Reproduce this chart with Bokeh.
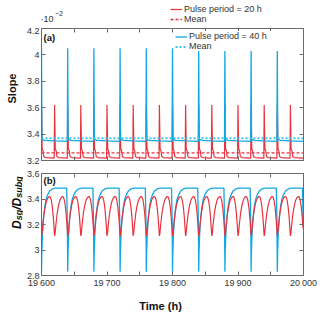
import math
from bokeh.plotting import figure
from bokeh.layouts import column, row
from bokeh.models import Range1d, LinearAxis, FixedTicker, Label, Legend, LegendItem
from bokeh.core.properties import value
from bokeh.embed import file_html
from bokeh.resources import INLINE

# ---------------- data ----------------
time_start = 19600
time_end = 20000
red_pulse_times = [19600, 19620, 19640, 19660, 19680, 19700, 19720, 19740, 19760, 19780,
                   19800, 19820, 19840, 19860, 19880, 19900, 19920, 19940, 19960, 19980]
blue_pulse_times = [19600, 19640, 19680, 19720, 19760, 19800, 19840, 19880, 19920, 19960]

# panel (a): one cycle after each pulse (hours after pulse, slope x 1e-2)
red_slope_cycle_dt = [0.0, 1.0, 2.5, 3.5, 6.0, 19.4]
red_slope_cycle = [3.62, 3.29, 3.27, 3.23, 3.222, 3.218]
blue_slope_cycle_dt = [0.0, 0.7, 5.0, 20.0, 39.4]
blue_slope_cycle = [4.05, 3.36, 3.352, 3.348, 3.345]
red_slope_mean = 3.258
blue_slope_mean = 3.368

# panel (b): one cycle after each pulse (hours after pulse, Dsg/Dsubg)
red_ratio_cycle_dt = [0.0, 0.8, 2.0, 4.0, 6.0, 8.0, 10.0, 12.0, 13.5, 15.0, 16.5, 18.0, 19.2]
red_ratio_cycle = [3.11, 3.13, 3.20, 3.29, 3.35, 3.39, 3.41, 3.42, 3.415, 3.39, 3.34, 3.26, 3.17]
blue_ratio_cycle_dt = [0.0, 0.5, 1.5, 3.0, 5.0, 7.0, 10.0, 13.0, 17.0, 21.0, 38.5, 39.5]
blue_ratio_cycle = [2.83, 2.98, 3.13, 3.25, 3.34, 3.40, 3.44, 3.465, 3.48, 3.485, 3.485, 3.20]

x_ticks = [19600, 19650, 19700, 19750, 19800, 19850, 19900, 19950, 20000]
x_tick_labels = ["19\u2009600", "", "19\u2009700", "", "19\u2009800", "", "19\u2009900", "", "20\u2009000"]
slope_ticks = [3.2, 3.4, 3.6, 3.8, 4.0, 4.2]
slope_tick_labels = ["3.2", "3.4", "3.6", "3.8", "4", "4.2"]
ratio_ticks = [2.8, 3.0, 3.2, 3.4, 3.6]
ratio_tick_labels = ["2.8", "3", "3.2", "3.4", "3.6"]

legend_labels = ["Pulse period = 20 h", "Mean", "Pulse period = 40 h", "Mean"]

RED = "#E8333F"
BLUE = "#10A8E2"
BLUE_MEAN = "#40C0EE"
AX = "#6b6b6b"
TXT = "#333333"
DARK = "#111111"
FONT = "Liberation Sans"
TICK_FS = "9px"
LEG_FS = "9px"


def build_series(pulses, cyc_dt, cyc_val):
    xs, ys = [], []
    for t0 in pulses:
        for dt, v in zip(cyc_dt, cyc_val):
            t = t0 + dt
            if t <= time_end:
                xs.append(t)
                ys.append(v)
    return xs, ys


def style_axis(ax, ticks, labels, show_labels):
    ax.ticker = FixedTicker(ticks=ticks)
    ax.major_tick_in = 4
    ax.major_tick_out = 0
    ax.minor_tick_in = 0
    ax.minor_tick_out = 0
    ax.axis_line_color = AX
    ax.major_tick_line_color = AX
    ax.major_label_text_font = FONT
    if show_labels:
        ax.major_label_overrides = {t: l for t, l in zip(ticks, labels)}
        ax.major_label_text_color = TXT
        ax.major_label_text_font_size = TICK_FS
        ax.major_label_standoff = 2
    else:
        ax.major_label_text_color = None
        ax.major_label_text_font_size = "0px"
        ax.major_label_standoff = 0


def make_fig(width, height, bl, br, btop, bbottom, y0, y1, yticks, ylabels, xlabels_shown):
    p = figure(width=width, height=height, x_range=Range1d(time_start, time_end),
               y_range=Range1d(y0, y1), output_backend="svg", toolbar_location=None,
               min_border_left=bl, min_border_right=br, min_border_top=btop,
               min_border_bottom=bbottom, x_axis_location=None, y_axis_location=None)
    p.xgrid.visible = False
    p.ygrid.visible = False
    p.outline_line_color = AX
    p.background_fill_color = "white"
    p.border_fill_color = "white"
    bx = LinearAxis(); style_axis(bx, x_ticks, x_tick_labels, xlabels_shown)
    tx = LinearAxis(); style_axis(tx, x_ticks, x_tick_labels, False)
    ly = LinearAxis(); style_axis(ly, yticks, ylabels, True)
    ry = LinearAxis(); style_axis(ry, yticks, ylabels, False)
    p.add_layout(bx, "below")
    p.add_layout(tx, "above")
    p.add_layout(ly, "left")
    p.add_layout(ry, "right")
    return p


def blank_fig(width, height):
    f = figure(width=width, height=height, x_range=Range1d(0, 1), y_range=Range1d(0, 1),
               output_backend="svg", toolbar_location=None, min_border=0,
               x_axis_location=None, y_axis_location=None)
    f.xgrid.visible = False
    f.ygrid.visible = False
    f.outline_line_color = None
    f.background_fill_color = "white"
    f.border_fill_color = "white"
    return f


def make_legend(items, loc, row_h, lw, pad, lh=1.2):
    return Legend(items=items, location=loc, label_text_font=FONT, label_text_font_size=LEG_FS,
                  label_text_color=TXT, label_text_line_height=lh, glyph_width=12,
                  glyph_height=row_h, label_height=row_h, label_width=lw, spacing=0,
                  padding=pad, margin=0, label_standoff=2, border_line_color=None,
                  background_fill_color="white", background_fill_alpha=1.0)


def add_text(f, x, y, text, size, style="normal", color=DARK, align="left",
             baseline="middle", angle=0.0):
    f.add_layout(Label(x=x, y=y, x_units="screen", y_units="screen", text=text,
                       text_font=FONT, text_font_size=size, text_font_style=style,
                       text_color=color, text_align=align, text_baseline=baseline, angle=angle))


rx, ry_ = build_series(red_pulse_times, red_slope_cycle_dt, red_slope_cycle)
bx_, by_ = build_series(blue_pulse_times, blue_slope_cycle_dt, blue_slope_cycle)
mean_x = [time_start, time_end]

# ---------------- header (multiplier + first legend group) ----------------
# the header's own 0..1 range keeps these proxy lines out of view; only their legend glyphs show
header = blank_fig(320, 27)
h_red = header.line(rx, ry_, line_color=RED, line_width=1.2)
h_red_m = header.line(mean_x, [red_slope_mean, red_slope_mean], line_color=RED,
                      line_width=1.3, line_dash="3 2")
leg_a = make_legend([LegendItem(label=value(legend_labels[0]), renderers=[h_red]),
                     LegendItem(label=value(legend_labels[1]), renderers=[h_red_m])],
                    (170, 3), 10, 110, 2)
header.add_layout(leg_a)
add_text(header, 40, 9, "\u00b710", TICK_FS, color=TXT)
add_text(header, 54.5, 14, "\u22122", "7px", color=TXT)

# ---------------- panel (a) ----------------
p1 = make_fig(297, 139, 15, 17, 1, 6, 3.2, 4.2, slope_ticks, slope_tick_labels, False)
r_red = p1.line(rx, ry_, line_color=RED, line_width=1.2)
r_blue = p1.line(bx_, by_, line_color=BLUE, line_width=1.3)
r_red_m = p1.line(mean_x, [red_slope_mean, red_slope_mean],
                  line_color=RED, line_width=1.2, line_dash="3 2")
r_blue_m = p1.line(mean_x, [blue_slope_mean, blue_slope_mean],
                   line_color=BLUE_MEAN, line_width=2, line_dash="2 2")
leg_b = make_legend([LegendItem(label=value(legend_labels[2]), renderers=[r_blue]),
                     LegendItem(label=value(legend_labels[3]), renderers=[r_blue_m])],
                    (134, 109), 9, 112, 0, 0.9)
p1.add_layout(leg_b)
add_text(p1, 2, 123, "(a)", "9.5px", style="bold")

strip_a = blank_fig(23, 139)
add_text(strip_a, 11, 72, "Slope", "11px", style="bold", align="center", angle=math.pi / 2)

# ---------------- panel (b) ----------------
p2 = make_fig(297, 124, 15, 17, 7, 13, 2.8, 3.6, ratio_ticks, ratio_tick_labels, True)
bx2, by2 = build_series(blue_pulse_times, blue_ratio_cycle_dt, blue_ratio_cycle)
rx2, ry2 = build_series(red_pulse_times, red_ratio_cycle_dt, red_ratio_cycle)
p2.line(bx2, by2, line_color=BLUE, line_width=1.3)
p2.line(rx2, ry2, line_color=RED, line_width=1.2)
add_text(p2, 2, 95, "(b)", "9.5px", style="bold")

strip_b = blank_fig(23, 124)
# composite rotated label D_sg / D_subg (reads bottom to top)
pieces = [("D", "12px", 0.0, 16), ("sg", "9px", 8.7, 18.5), ("/", "12px", 19.2, 16),
          ("D", "12px", 22.5, 16), ("subg", "9px", 31.2, 18.5)]
y_start = 46.6
for txt, fs, off, xb in pieces:
    add_text(strip_b, xb, y_start + off, txt, fs, style="bold italic",
             baseline="alphabetic", angle=math.pi / 2)

# ---------------- footer (x title) ----------------
footer = blank_fig(320, 26)
add_text(footer, 160, 10.5, "Time (h)", "11px", style="bold", align="center")

layout = column(header, row(strip_a, p1, spacing=0), row(strip_b, p2, spacing=0), footer, spacing=0)
open("out.html", "w").write(file_html(layout, INLINE))
